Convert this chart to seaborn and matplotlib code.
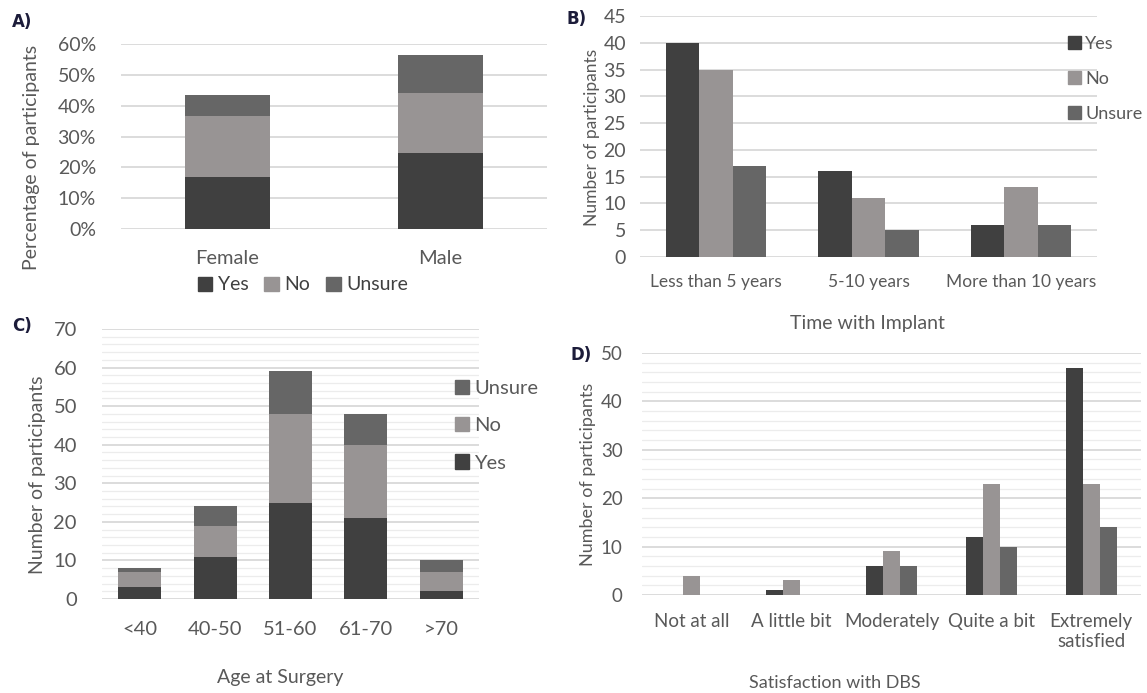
import numpy as np
import pandas as pd
import seaborn as sns
import matplotlib.pyplot as plt
from matplotlib.patches import Patch
from matplotlib.ticker import PercentFormatter, MultipleLocator

sns.set_theme(style="white")
plt.rcParams['font.family'] = ['Lato', 'DejaVu Sans']
plt.rcParams['text.color'] = '#595959'

# colours
c_yes, c_no, c_unsure = '#404040', '#989494', '#666666'
grid_major, grid_minor = '#d9d9d9', '#ececec'
txt = '#595959'

# A) gender, percent of participants
sexes = ['Female', 'Male']
sex_yes = [17, 24.5]
sex_no = [19.5, 19.5]
sex_unsure = [7, 12.5]

# B) time with implant
time_cats = ['Less than 5 years', '5-10 years', 'More than 10 years']
time_yes = [40, 16, 6]
time_no = [35, 11, 13]
time_unsure = [17, 5, 6]

# C) age at surgery
age_cats = ['<40', '40-50', '51-60', '61-70', '>70']
age_yes = [3, 11, 25, 21, 2]
age_no = [4, 8, 23, 19, 5]
age_unsure = [1, 5, 11, 8, 3]

# D) satisfaction
sat_cats = ['Not at all', 'A little bit', 'Moderately', 'Quite a bit', 'Extremely\nsatisfied']
sat_yes = [0, 1, 6, 12, 47]
sat_no = [4, 3, 9, 23, 23]
sat_unsure = [0, 0, 6, 10, 14]

W, H = 1147, 693
fig = plt.figure(figsize=(W / 100, H / 100), dpi=100)


def px_axes(left, right, y0, y1):
    # pixel box (from top-left) -> figure fraction
    return fig.add_axes([left / W, 1 - y0 / H, (right - left) / W, (y0 - y1) / H])


def style(ax, ymax, major, minor=None, ypad=14, xpad=14):
    ax.set_ylim(0, ymax)
    ax.yaxis.set_major_locator(MultipleLocator(major))
    if minor:
        ax.yaxis.set_minor_locator(MultipleLocator(minor))
        ax.grid(True, axis='y', which='minor', color=grid_minor, lw=0.9)
    ax.grid(True, axis='y', which='major', color=grid_major, lw=1.3)
    ax.set_axisbelow(True)
    sns.despine(ax=ax, left=True, bottom=True)
    ax.tick_params(axis='y', which='both', length=0, pad=ypad, labelsize=14, labelcolor=txt)
    ax.tick_params(axis='x', length=0, pad=xpad, labelsize=12.5, labelcolor=txt)
    ax.set_xlabel('')
    ax.set_ylabel('')


def stacked(ax, cats, yes, no, unsure, width):
    yes, no, unsure = map(np.array, (yes, no, unsure))
    kw = dict(saturation=1, width=width, linewidth=0, ax=ax)
    sns.barplot(x=cats, y=yes + no + unsure, color=c_unsure, **kw)
    sns.barplot(x=cats, y=yes + no, color=c_no, **kw)
    sns.barplot(x=cats, y=yes, color=c_yes, **kw)


def grouped(ax, cats, yes, no, unsure, width):
    df = pd.DataFrame({
        'cat': cats * 3,
        'resp': ['Yes'] * len(cats) + ['No'] * len(cats) + ['Unsure'] * len(cats),
        'n': list(yes) + list(no) + list(unsure),
    })
    sns.barplot(data=df, x='cat', y='n', hue='resp', order=cats,
                palette=[c_yes, c_no, c_unsure], saturation=1, linewidth=0,
                width=width, gap=0, errorbar=None, legend=False, ax=ax)


handles = {'Yes': Patch(color=c_yes), 'No': Patch(color=c_no), 'Unsure': Patch(color=c_unsure)}
letter_kw = dict(fontsize=12, fontweight='bold', color='#1c1c3a', ha='left', va='center',
                 family='DejaVu Sans')

# ---- A
axA = px_axes(121, 547, 229, 44)
stacked(axA, sexes, sex_yes, sex_no, sex_unsure, 0.4)
style(axA, 60, 10, ypad=18, xpad=15)
axA.yaxis.set_major_formatter(PercentFormatter(decimals=0))
axA.tick_params(axis='x', labelsize=14.5)
fig.legend([handles[k] for k in ['Yes', 'No', 'Unsure']], ['Yes', 'No', 'Unsure'],
           loc='center', bbox_to_anchor=(303 / W, 1 - 285 / H), ncol=3, frameon=False,
           fontsize=14, handlelength=0.75, handleheight=0.75, handletextpad=0.3,
           columnspacing=0.8, labelcolor='#404040')
fig.text(32 / W, 1 - 157 / H, 'Percentage of participants', rotation=90, ha='center',
         va='center', fontsize=14, color=txt)
fig.text(12 / W, 1 - 22 / H, 'A)', **letter_kw)

# ---- B
axB = px_axes(640, 1097, 257, 16)
grouped(axB, time_cats, time_yes, time_no, time_unsure, 0.66)
style(axB, 45, 5, ypad=10, xpad=12)
fig.legend([handles[k] for k in ['Yes', 'No', 'Unsure']], ['Yes', 'No', 'Unsure'],
           loc='upper left', bbox_to_anchor=(1068 / W, 1 - 36 / H), frameon=False,
           fontsize=13, handlelength=0.7, handleheight=0.7, handletextpad=0.25,
           labelspacing=1.05, labelcolor=txt, borderaxespad=0, borderpad=0)
fig.text(592 / W, 1 - 137 / H, 'Number of participants', rotation=90, ha='center',
         va='center', fontsize=12.5, color=txt)
fig.text(867 / W, 1 - 323 / H, 'Time with Implant', ha='center', va='center',
         fontsize=14, color=txt)
fig.text(567 / W, 1 - 19 / H, 'B)', **letter_kw)

# ---- C
axC = px_axes(102, 479, 599, 329)
stacked(axC, age_cats, age_yes, age_no, age_unsure, 0.57)
style(axC, 70, 10, minor=2, ypad=18, xpad=16)
axC.tick_params(axis='both', labelsize=14.5)
fig.legend([handles[k] for k in ['Unsure', 'No', 'Yes']], ['Unsure', 'No', 'Yes'],
           loc='upper left', bbox_to_anchor=(455 / W, 1 - 380 / H), frameon=False,
           fontsize=14.5, handlelength=0.7, handleheight=0.7, handletextpad=0.25,
           labelspacing=1.0, labelcolor=txt, borderaxespad=0, borderpad=0)
fig.text(38 / W, 1 - 475 / H, 'Number of participants', rotation=90, ha='center',
         va='center', fontsize=14, color=txt)
fig.text(280 / W, 1 - 678 / H, 'Age at Surgery', ha='center', va='center',
         fontsize=14, color=txt)
fig.text(12 / W, 1 - 326 / H, 'C)', **letter_kw)

# ---- D
axD = px_axes(642, 1141, 595, 353)
grouped(axD, sat_cats, sat_yes, sat_no, sat_unsure, 0.51)
style(axD, 50, 10, minor=2, ypad=14, xpad=13)
axD.tick_params(axis='both', labelsize=13.5)
fig.text(588 / W, 1 - 474 / H, 'Number of participants', rotation=90, ha='center',
         va='center', fontsize=13, color=txt)
fig.text(835 / W, 1 - 683 / H, 'Satisfaction with DBS', ha='center', va='center',
         fontsize=13, color=txt)
fig.text(570 / W, 1 - 355 / H, 'D)', **letter_kw)

fig.savefig('out.png', dpi=100, facecolor='white')
